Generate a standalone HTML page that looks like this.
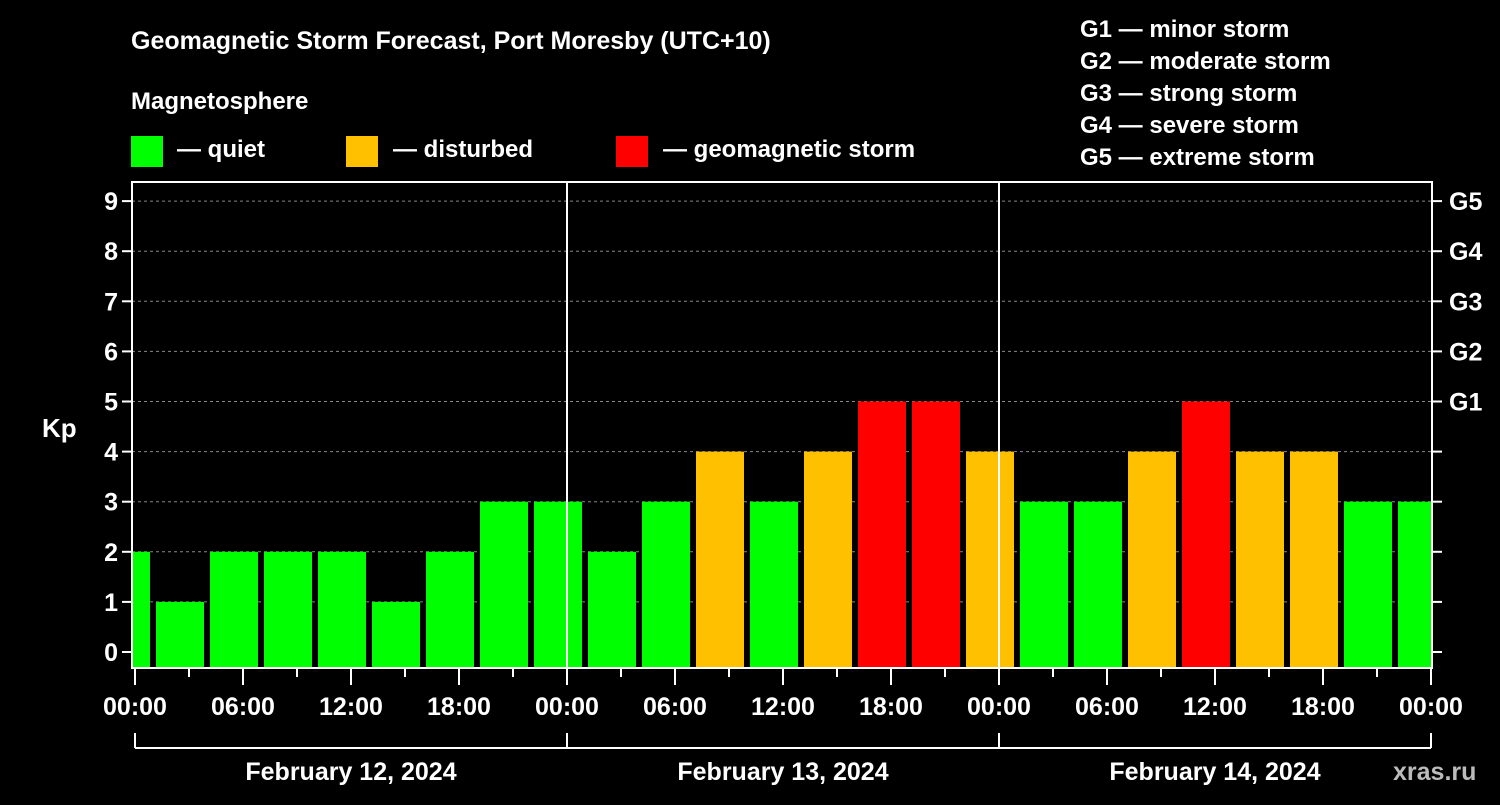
<!DOCTYPE html>
<html><head><meta charset="utf-8"><style>
body{margin:0;background:#000;width:1500px;height:800px;overflow:hidden}
svg text{font-family:"Liberation Sans",sans-serif;font-weight:bold;fill:#fff}
</style></head><body>
<svg id="c" width="1500" height="800" xmlns="http://www.w3.org/2000/svg">
<text x="131" y="49" font-size="25">Geomagnetic Storm Forecast, Port Moresby (UTC+10)</text>
<text x="131" y="109" font-size="24">Magnetosphere</text>
<rect x="131" y="136" width="32" height="31" fill="#00ff00"/>
<text x="177" y="157" font-size="24">— quiet</text>
<rect x="346" y="136" width="32" height="31" fill="#ffc000"/>
<text x="393" y="157" font-size="24">— disturbed</text>
<rect x="616" y="136" width="32" height="31" fill="#ff0000"/>
<text x="663" y="157" font-size="24">— geomagnetic storm</text>
<g font-size="24">
<text x="1080" y="37">G1 — minor storm</text>
<text x="1080" y="69">G2 — moderate storm</text>
<text x="1080" y="101">G3 — strong storm</text>
<text x="1080" y="133">G4 — severe storm</text>
<text x="1080" y="165">G5 — extreme storm</text>
</g>
<text x="42" y="437" font-size="26">Kp</text>
<text x="1393" y="780" font-size="25" fill="#bbb" style="fill:#bbb">xras.ru</text>
<defs><clipPath id="pc"><rect x="133" y="182" width="1299" height="486"/></clipPath></defs>
<g id="grid"></g><g id="bars" clip-path="url(#pc)"></g><g id="axes"></g>
</svg>
<script>
const values=[2,1,2,2,2,1,2,3,3,2,3,4,3,4,5,5,4,3,3,4,5,4,4,3,3];
const dayLabels=["February 12, 2024","February 13, 2024","February 14, 2024"];
const timeLabels=["00:00","06:00","12:00","18:00"];
const gLabels=["G1","G2","G3","G4","G5"];
const NS="http://www.w3.org/2000/svg";
const X0=135,PXH=18,Y0=652,PXK=50.1,BOT=668,TOP=182,L=132,R=1432;
const x=h=>X0+h*PXH, y=k=>Y0-k*PXK;
function mk(p,t,a){const e=document.createElementNS(NS,t);for(const k in a)e.setAttribute(k,a[k]);p.appendChild(e);return e;}
const grid=document.getElementById('grid'),bars=document.getElementById('bars'),axes=document.getElementById('axes');
for(let k=1;k<=9;k++){const l=mk(grid,'line',{x1:L,x2:R,y1:y(k),y2:y(k),stroke:'#888','stroke-dasharray':'3,3'});

}
values.forEach((v,i)=>{const c=x(-0.5+3*i);const col=v>=5?'#ff0000':v>=4?'#ffc000':'#00ff00';
const r=mk(bars,'rect',{x:c-24,y:y(v),width:48,height:BOT-y(v),fill:col});

});
for(let d=1;d<=2;d++){const l=mk(axes,'line',{x1:x(24*d),x2:x(24*d),y1:TOP,y2:BOT,stroke:'#fff','stroke-width':2});

}
const f=mk(axes,'rect',{x:L,y:TOP,width:R-L,height:BOT-TOP,fill:'none',stroke:'#fff','stroke-width':2});


for(let k=0;k<=9;k++){mk(axes,'line',{x1:L-10,x2:L,y1:y(k),y2:y(k),stroke:'#fff','stroke-width':2});
mk(axes,'line',{x1:R,x2:R+10,y1:y(k),y2:y(k),stroke:'#fff','stroke-width':2});
const t=mk(axes,'text',{x:L-14,y:y(k)+9,'font-size':25,'text-anchor':'end'});t.textContent=k;

}
gLabels.forEach((g,i)=>{const t=mk(axes,'text',{x:R+17,y:y(5+i)+9,'font-size':25});t.textContent=g;

});
for(let h=0;h<=72;h+=3){const maj=h%6==0;mk(axes,'line',{x1:x(h),x2:x(h),y1:BOT,y2:BOT+(maj?17:9),stroke:'#fff','stroke-width':2});
if(maj){const t=mk(axes,'text',{x:x(h),y:715,'font-size':25,'text-anchor':'middle'});t.textContent=timeLabels[(h/6)%4];

}}
mk(axes,'line',{x1:x(0),x2:x(72),y1:748,y2:748,stroke:'#fff','stroke-width':2});
for(let d=0;d<=3;d++)mk(axes,'line',{x1:x(24*d),x2:x(24*d),y1:733,y2:748,stroke:'#fff','stroke-width':2});
dayLabels.forEach((s,d)=>{const t=mk(axes,'text',{x:x(24*d+12),y:780,'font-size':25,'text-anchor':'middle'});t.textContent=s;

});
</script>
</body></html>
